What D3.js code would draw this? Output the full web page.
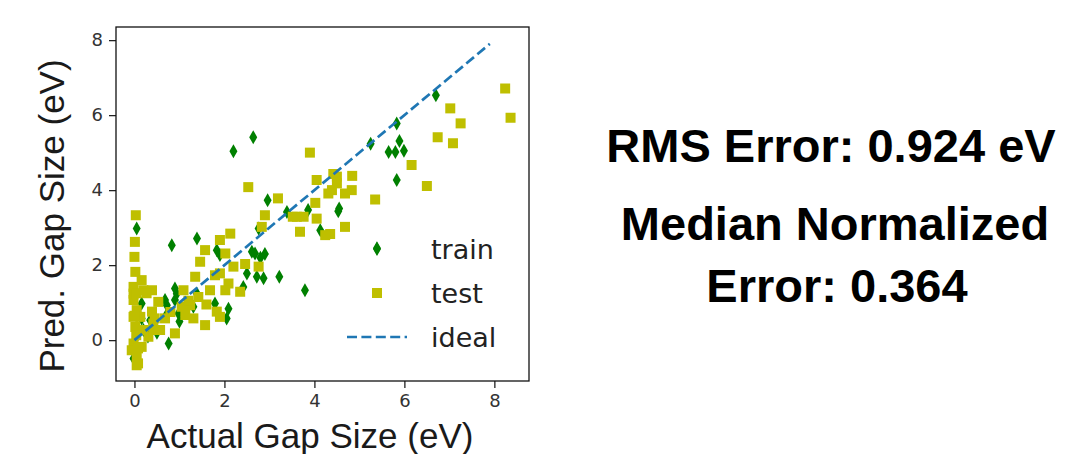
<!DOCTYPE html>
<html>
<head>
<meta charset="utf-8">
<script src="https://cdn.jsdelivr.net/npm/d3@7"></script>
<style>
  body { margin: 0; background: #fff; }
</style>
</head>
<body>
<div id="chart"></div>
<script>
// train points: [actual, predicted]
var trainActual = [6.70, 5.83, 5.89, 5.65, 5.80, 5.99, 5.25, 5.83, 4.53, 5.39, 3.86, 4.13, 3.79, 2.96, 3.39,
    2.68, 2.72, 2.87, 3.22, 2.20, 2.64, 0.05, 0.83, 1.39, 2.76, 2.61, 1.83, 1.90, 2.50, 2.42,
    0.90, 0.68, 0.72, 0.90, 0.98, 1.31, 1.39, 1.79, 2.09, 2.05, 0.16, 0.35, 0.20, 0.76, -0.02,
    0.16, 0.71, 0.94, 4.55, 2.80, 2.90, 1.00, 0.30, 0.50, 0.05];
var trainPred = [6.53, 5.78, 5.31, 5.02, 5.02, 5.05, 5.24, 4.27, 3.44, 2.45, 3.47, 2.93, 1.33, 3.73, 3.42,
    2.31, 1.69, 1.65, 1.69, 5.04, 5.41, 2.98, 2.53, 2.71, 2.98, 2.36, 2.40, 2.27, 1.78, 1.42,
    1.38, 1.07, 0.93, 1.07, 0.71, 0.89, 1.24, 0.98, 0.84, 0.58, 0.98, 0.53, 0.27, -0.09, -0.49,
    0.58, 0.67, 1.24, 3.51, 2.20, 2.30, 0.50, 0.10, 0.20, 0.10];

// test points: [actual, predicted]
var testActual = [8.24, 8.36, 7.02, 7.25, 6.74, 7.08, 6.50, 6.16, 5.35, 4.68, 4.84, 4.83, 4.68, 4.50, 4.39,
    4.35, 3.90, 4.05, 4.42, 4.50, 4.31, 4.02, 3.76, 4.05, 4.24, 3.68, 3.19, 2.90, 3.61, 2.83,
    2.76, 2.53, 0.03, 0.01, 0.00, 0.02, 0.16, -0.02, -0.02, 0.20, 0.39, -0.02, 0.05, -0.02, 0.13,
    0.02, 0.20, 0.31, -0.02, 0.16, -0.06, 0.05, 0.05, 0.39, 0.42, 0.57, 0.68, 0.90, 1.09, 1.05,
    1.24, 1.13, 1.31, 1.35, 1.46, 1.57, 1.42, 1.57, 1.90, 2.13, 2.02, 2.20, 2.46, 1.90, 2.09,
    2.02, 2.35, 1.83, 1.90, 1.68, 1.79, 3.52, 0.05, 0.27, 0.00, 0.04, 0.08, 0.08, 0.53, 0.45, 0.42,
    1.20, 1.60, 0.80];
var testPred = [6.71, 5.93, 6.18, 5.78, 5.41, 5.25, 4.11, 4.67, 3.75, 3.02, 4.38, 4.00, 3.91, 4.36, 4.00,
    2.83, 5.00, 4.27, 4.43, 4.18, 3.91, 3.66, 3.29, 3.24, 2.80, 2.89, 3.78, 3.33, 3.29, 3.02,
    1.96, 4.08, 3.33, 2.62, 2.22, 1.82, 1.60, 1.42, 1.24, 1.33, 1.33, 1.07, 0.80, 0.62, 0.62,
    0.35, 0.27, 0.09, -0.09, -0.18, -0.27, -0.44, -0.67, 0.76, 0.44, 0.27, 0.58, 0.18, 1.33, 0.89,
    0.93, 0.67, 0.58, 1.69, 2.09, 2.40, 1.15, 0.40, 2.67, 2.84, 2.31, 1.96, 2.03, 1.78, 1.51,
    1.33, 1.29, 0.76, 0.62, 1.33, 1.73, 3.29, 1.25, 1.25, 0.65, 0.13, -0.22, -0.62, 1.02, 0.58, 0.27,
    1.05, 0.95, 0.75];

var idealLine = [0, 7.9];
var tickValues = [0, 2, 4, 6, 8];
var legendLabels = ["train", "test", "ideal"];
var statLines = ["RMS Error: 0.924 eV", "Median Normalized", "Error: 0.364"];

var W = 1068, H = 454;
var plot = {left: 116, top: 27, width: 413, height: 354};

var svg = d3.select("#chart").append("svg")
    .attr("width", W)
    .attr("height", H);

var x = d3.scaleLinear().domain([-0.41, 8.77]).range([plot.left, plot.left + plot.width]);
var y = d3.scaleLinear().domain([-1.09, 8.35]).range([plot.top + plot.height, plot.top]);

var green = "#008000", yellow = "#bfbf00", blue = "#1f77b4";
var diamond = "M0,-7L4,0L0,7L-4,0Z";

/*****************  Axes **********************/

var xAxis = svg.append("g")
    .attr("transform", "translate(0," + (plot.top + plot.height) + ")")
    .call(d3.axisBottom(x).tickValues(tickValues).tickSize(7).tickPadding(6));
var yAxis = svg.append("g")
    .attr("transform", "translate(" + plot.left + ",0)")
    .call(d3.axisLeft(y).tickValues(tickValues).tickSize(7).tickPadding(6));

[xAxis, yAxis].forEach(function (a) {
    a.select(".domain").remove();
    a.selectAll(".tick line").attr("stroke", "#222").attr("stroke-width", 1.3);
    a.selectAll(".tick text")
        .attr("font-family", "DejaVu Sans")
        .attr("font-size", "18px")
        .attr("fill", "#333");
});

/*****************  Points **********************/

svg.append("g").selectAll("path")
    .data(trainActual)
    .enter()
    .append("path")
    .attr("d", diamond)
    .attr("transform", function (d, i) {
        return "translate(" + x(d) + "," + y(trainPred[i]) + ")";
    })
    .attr("fill", green);

svg.append("g").selectAll("rect")
    .data(testActual)
    .enter()
    .append("rect")
    .attr("x", function (d) { return x(d) - 5; })
    .attr("y", function (d, i) { return y(testPred[i]) - 5; })
    .attr("width", 10)
    .attr("height", 10)
    .attr("fill", yellow);

svg.append("line")
    .attr("x1", x(idealLine[0]))
    .attr("y1", y(idealLine[0]))
    .attr("x2", x(idealLine[1]))
    .attr("y2", y(idealLine[1]))
    .attr("stroke", blue)
    .attr("stroke-width", 2.7)
    .attr("stroke-dasharray", "10,4.4");

/*****************  Frame **********************/

svg.append("rect")
    .attr("x", plot.left)
    .attr("y", plot.top)
    .attr("width", plot.width)
    .attr("height", plot.height)
    .attr("fill", "none")
    .attr("stroke", "#111")
    .attr("stroke-width", 1.3);

/*****************  Legend **********************/

var legend = svg.append("g");
var legendY = [249, 293, 337];

legend.append("path")
    .attr("d", diamond)
    .attr("transform", "translate(377," + legendY[0] + ")")
    .attr("fill", green);
legend.append("rect")
    .attr("x", 372).attr("y", legendY[1] - 5)
    .attr("width", 10).attr("height", 10)
    .attr("fill", yellow);
legend.append("line")
    .attr("x1", 347).attr("x2", 407)
    .attr("y1", legendY[2]).attr("y2", legendY[2])
    .attr("stroke", blue)
    .attr("stroke-width", 2.7)
    .attr("stroke-dasharray", "10,4.4");

legend.selectAll("text")
    .data(legendLabels)
    .enter()
    .append("text")
    .attr("x", 431)
    .attr("y", function (d, i) { return legendY[i] + 10; })
    .attr("font-family", "DejaVu Sans")
    .attr("font-size", "27px")
    .attr("fill", "#222")
    .text(function (d) { return d; });

/*****************  Axis titles **********************/

svg.append("text")
    .attr("x", 310)
    .attr("y", 448)
    .attr("text-anchor", "middle")
    .attr("font-family", "Liberation Sans")
    .attr("font-size", "35px")
    .attr("fill", "#1a1a1a")
    .text("Actual Gap Size (eV)");

svg.append("text")
    .attr("transform", "translate(64,216) rotate(-90)")
    .attr("text-anchor", "middle")
    .attr("font-family", "Liberation Sans")
    .attr("font-size", "35px")
    .attr("fill", "#1a1a1a")
    .text("Pred. Gap Size (eV)");

/*****************  Stats text **********************/

svg.selectAll(".stat")
    .data(statLines)
    .enter()
    .append("text")
    .attr("class", "stat")
    .attr("x", function (d, i) { return [831, 835, 837][i]; })
    .attr("y", function (d, i) { return [162, 240, 302][i]; })
    .attr("text-anchor", "middle")
    .attr("font-family", "Liberation Sans")
    .attr("font-weight", "bold")
    .attr("font-size", "47px")
    .attr("fill", "#000")
    .text(function (d) { return d; });
</script>
</body>
</html>
